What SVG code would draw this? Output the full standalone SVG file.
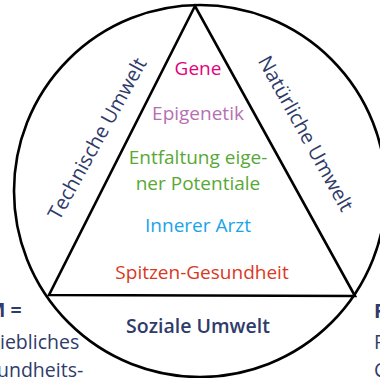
<svg xmlns="http://www.w3.org/2000/svg" width="380" height="378" viewBox="0 0 380 378">
<style>
text{font-family:"Open Sans","Noto Sans","Liberation Sans",sans-serif;font-size:19px;font-weight:500}
.c{text-anchor:middle}
.navy{fill:#2f3b6a;font-weight:600;font-size:19.5px}
.side{fill:#2f3b6a;font-size:20px;font-weight:500}
.note{fill:#2f3b6a;font-size:19.5px;font-weight:400}
.note.b{font-weight:700}
.line{fill:none;stroke:#000;stroke-width:2.6}
</style>
<rect width="380" height="378" fill="#fff"/>
<g id="connectors">
<circle class="line" cx="200" cy="191" r="186"/>
<polygon class="line" points="195,6 49,295 355,296" stroke-linejoin="miter"/>
</g>
<g id="core">
<text class="c" x="198" y="75" fill="#e5007d">Gene</text>
<text class="c" x="198" y="120" fill="#b66fb2">Epigenetik</text>
<text class="c" x="198" y="164" fill="#58a836">Entfaltung eige-</text>
<text class="c" x="198" y="190" fill="#58a836">ner Potentiale</text>
<text class="c" x="198" y="232" fill="#1aa3e8">Innerer Arzt</text>
<text class="c" x="202" y="279" fill="#d9391f" font-size="19.8">Spitzen-Gesundheit</text>
</g>
<g id="technische">
<text class="c side" transform="translate(98,139) rotate(-61)" x="0" y="6">Technische Umwelt</text>
</g>
<g id="natuerliche">
<text class="c side" transform="translate(305,134) rotate(61)" x="0" y="6">Natürliche Umwelt</text>
</g>
<g id="soziale">
<text class="c navy" x="198" y="333">Soziale Umwelt</text>
</g>
<g id="left-note">
<text class="note b" x="-13" y="317">M =</text>
<text class="note" x="0" y="349">iebliches</text>
<text class="note" x="-3" y="377">undheits-</text>
</g>
<g id="right-note">
<text class="note b" x="374" y="318">R</text>
<text class="note" x="374" y="349">R</text>
<text class="note" x="374" y="377">C</text>
</g>
</svg>
